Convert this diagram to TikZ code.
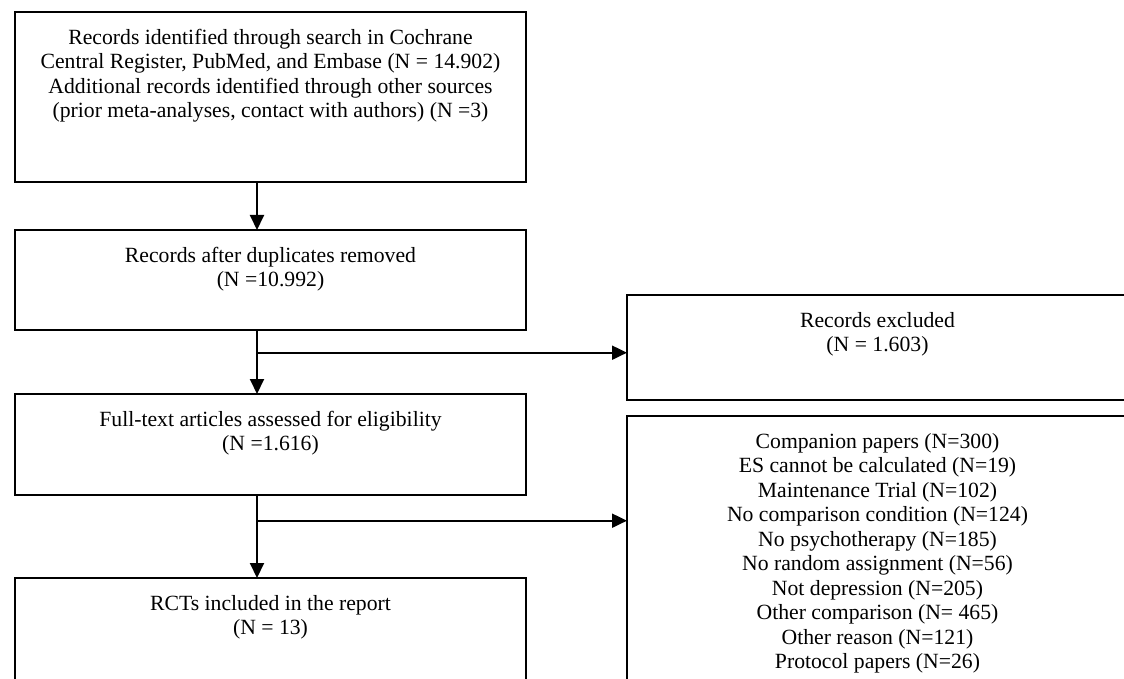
\documentclass[tikz,border=0pt]{standalone}
\usepackage{fontspec}
\setmainfont{Liberation Serif}
\usetikzlibrary{arrows.meta}
\newcommand\boxcontent[3]{\parbox[t][#2][t]{#1}{\centering\fontsize{21.7}{24.5}\selectfont\vspace*{17pt}#3\par}}
\begin{document}
\begin{tikzpicture}[x=1pt,y=-1pt,
  box/.style={draw, line width=1.3pt, anchor=north west, inner sep=0pt, outer sep=0pt},
  flow/.style={line width=2pt, -{Triangle[width=14pt,length=15pt]}},
  trunk/.style={line width=2pt}]
\useasboundingbox (0,0) rectangle (1124,679);
\clip (0,0) rectangle (1124,679);
\fill[white] (0,0) rectangle (1124,679);
% left column
\node[box] (b1) at (15,12) {\boxcontent{511pt}{170pt}{Records identified through search in Cochrane\\
Central Register, PubMed, and Embase (N = 14.902)\\
Additional records identified through other sources\\
(prior meta-analyses, contact with authors) (N =3)}};
\node[box] (b2) at (15,230) {\boxcontent{511pt}{100pt}{Records after duplicates removed\\(N =10.992)}};
\node[box] (b3) at (15,394) {\boxcontent{511pt}{101pt}{Full-text articles assessed for eligibility\\(N =1.616)}};
\node[box] (b4) at (15,578) {\boxcontent{511pt}{130pt}{RCTs included in the report\\(N = 13)}};
% right column
\node[box] (r1) at (627,295) {\boxcontent{501pt}{105pt}{Records excluded\\(N = 1.603)}};
\node[box] (r2) at (627,416) {\boxcontent{501pt}{290pt}{Companion papers (N=300)\\
ES cannot be calculated (N=19)\\
Maintenance Trial (N=102)\\
No comparison condition (N=124)\\
No psychotherapy (N=185)\\
No random assignment (N=56)\\
Not depression (N=205)\\
Other comparison (N= 465)\\
Other reason (N=121)\\
Protocol papers (N=26)}};
% connector guides
\coordinate (ax) at (257,0);
\coordinate (j1) at (257,352.7);
\coordinate (j2) at (257,520.7);
% connectors
\draw[flow] (b1.south -| ax) -- (b2.north -| ax);
\draw[flow] (b2.south -| ax) -- (b3.north -| ax);
\draw[flow] (b3.south -| ax) -- (b4.north -| ax);
\draw[flow] (j1) -- (j1 -| r1.west);
\draw[flow] (j2) -- (j2 -| r2.west);
\end{tikzpicture}
\end{document}
